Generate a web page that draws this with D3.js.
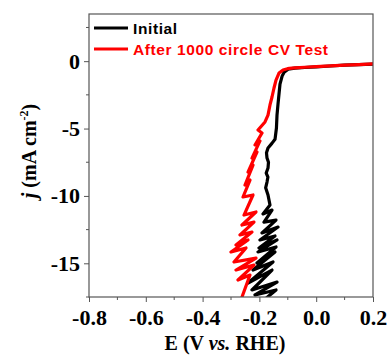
<!DOCTYPE html>
<html>
<head>
<meta charset="utf-8">
<script src="https://cdn.jsdelivr.net/npm/d3@7"></script>
<style>
  body { margin: 0; background: #fff; }
  svg { display: block; }
</style>
</head>
<body>
<svg id="plot"></svg>
<script>
// Series names
const seriesNames = ["Initial", "After 1000 circle CV Test"];
const seriesColors = ["#000000", "#ff0000"];

// Initial LSV curve (E in V vs RHE, j in mA cm-2)
const initialE = [0.2, 0.15, 0.1, 0.05, 0.0, -0.04, -0.075, -0.099, -0.113, -0.120, -0.1275, -0.131, -0.1345, -0.138, -0.140, -0.145, -0.156, -0.1697, -0.175, -0.1732, -0.168, -0.1697, -0.176, -0.170, -0.1732, -0.178, -0.1697, -0.1627, -0.1873, -0.1556, -0.1838, -0.1415, -0.1908, -0.1345, -0.1979, -0.1451, -0.2014, -0.1380, -0.2049, -0.1415, -0.2085, -0.1451, -0.2225, -0.1521, -0.2401, -0.1556, -0.2261, -0.1380, -0.2155, -0.1415, -0.2049];
const initialJ = [-0.22, -0.26, -0.30, -0.36, -0.42, -0.47, -0.52, -0.59, -0.82, -1.11, -1.71, -2.45, -3.19, -4.00, -4.96, -5.80, -6.10, -6.44, -6.80, -7.19, -7.50, -7.93, -8.30, -8.60, -8.97, -9.40, -9.93, -10.67, -11.34, -11.05, -11.94, -11.79, -12.75, -12.31, -13.27, -12.97, -13.86, -13.27, -14.16, -13.79, -14.98, -14.16, -15.50, -14.90, -16.46, -15.50, -16.98, -16.39, -17.35, -16.98, -18.09];

// After 1000 CV cycles
const afterE = [0.2, 0.15, 0.1, 0.05, 0.0, -0.04, -0.075, -0.095, -0.1169, -0.1310, -0.1415, -0.1486, -0.1556, -0.1627, -0.1697, -0.1803, -0.2049, -0.1908, -0.2155, -0.1979, -0.2261, -0.2085, -0.2401, -0.2225, -0.2507, -0.2331, -0.2577, -0.2225, -0.2542, -0.2120, -0.2613, -0.2190, -0.2683, -0.2261, -0.2824, -0.2401, -0.30, -0.2472, -0.2894, -0.2120, -0.2824, -0.2190, -0.2754, -0.2331, -0.2613, -0.2507];
const afterJ = [-0.20, -0.25, -0.30, -0.35, -0.40, -0.45, -0.50, -0.53, -0.66, -0.88, -1.40, -1.99, -2.66, -3.25, -4.00, -4.51, -5.11, -5.33, -6.22, -5.92, -7.19, -6.74, -8.23, -7.71, -9.19, -8.82, -10.08, -9.93, -11.42, -11.19, -12.16, -11.94, -12.90, -12.68, -13.64, -13.27, -14.16, -13.86, -14.90, -14.61, -15.50, -15.13, -16.24, -15.87, -17.50, -18.09];

// Axis ticks
const xTicks = [-0.8, -0.6, -0.4, -0.2, 0.0, 0.2];
const xMinor = [-0.7, -0.5, -0.3, -0.1, 0.1];
const yTicks = [0, -5, -10, -15];
const yMinor = [2.5, -2.5, -7.5, -12.5, -17.5];

const W = 392, H = 359;
const margin = { top: 14, right: 19, bottom: 62, left: 89 };
const width = W - margin.left - margin.right;
const height = H - margin.top - margin.bottom;
const serif = "'Liberation Serif', 'Times New Roman', serif";
const sans = "'Liberation Sans', Arial, sans-serif";

const svg = d3.select("#plot").attr("width", W).attr("height", H);
const g = svg.append("g").attr("transform", `translate(${margin.left},${margin.top})`);

const x = d3.scaleLinear().domain([-0.8, 0.2]).range([0, width]);
const y = d3.scaleLinear().domain([-17.5, 3.5]).range([height, 0]);

g.append("clipPath").attr("id", "clip")
  .append("rect").attr("width", width).attr("height", height);

// Curves (red drawn over black)
const series = [
  initialE.map((e, i) => [e, initialJ[i]]),
  afterE.map((e, i) => [e, afterJ[i]])
];
const line = d3.line().x(d => x(d[0])).y(d => y(d[1]));
series.forEach((s, i) => {
  g.append("path")
    .datum(s)
    .attr("clip-path", "url(#clip)")
    .attr("fill", "none")
    .attr("stroke", seriesColors[i])
    .attr("stroke-width", 3.2)
    .attr("stroke-linejoin", "round")
    .attr("d", line);
});

// Frame
g.append("rect")
  .attr("width", width).attr("height", height)
  .attr("fill", "none").attr("stroke", "#555").attr("stroke-width", 1.2);

// Bottom axis
const xAxis = g.append("g").attr("transform", `translate(0,${height})`);
xAxis.call(d3.axisBottom(x).tickValues(xTicks).tickSize(5).tickSizeOuter(0));
xMinor.forEach(v => {
  xAxis.append("line").attr("x1", x(v)).attr("x2", x(v)).attr("y1", 0).attr("y2", 3).attr("stroke", "#555");
});
xAxis.select(".domain").remove();
xAxis.selectAll(".tick line").attr("stroke", "#555");
xAxis.selectAll(".tick text")
  .style("font-family", serif).style("font-weight", "bold").style("font-size", "22px")
  .attr("fill", "#000").attr("y", 8).attr("dy", "0.9em")
  .text(d => d.toFixed(1));

// Left axis
const yAxis = g.append("g");
yAxis.call(d3.axisLeft(y).tickValues(yTicks).tickSize(5).tickSizeOuter(0));
yMinor.forEach(v => {
  yAxis.append("line").attr("x1", 0).attr("x2", -3).attr("y1", y(v)).attr("y2", y(v)).attr("stroke", "#555");
});
yAxis.select(".domain").remove();
yAxis.selectAll(".tick line").attr("stroke", "#555");
yAxis.selectAll(".tick text")
  .style("font-family", serif).style("font-weight", "bold").style("font-size", "22px")
  .attr("fill", "#000").attr("x", -9)
  .text(d => String(d));

// Axis labels
const xl = svg.append("text")
  .style("font-family", serif).style("font-weight", "bold").style("font-size", "20px")
  .attr("x", margin.left + width / 2 - 6).attr("y", 350).attr("text-anchor", "middle");
xl.append("tspan").text("E (V ");
xl.append("tspan").attr("font-style", "italic").text("vs.");
xl.append("tspan").text(" RHE)");

const yl = svg.append("text")
  .style("font-family", serif).style("font-weight", "bold").style("font-size", "20px")
  .attr("transform", `translate(36,${margin.top + 137}) rotate(-90)`)
  .attr("text-anchor", "middle");
yl.append("tspan").attr("font-style", "italic").text("j");
yl.append("tspan").text(" (mA cm");
yl.append("tspan").style("font-size", "12px").attr("dy", "-8").text("-2");
yl.append("tspan").attr("dy", "8").text(")");

// Legend
const legendY = [28, 49];
seriesNames.forEach((name, i) => {
  svg.append("line")
    .attr("x1", 94).attr("x2", 128).attr("y1", legendY[i]).attr("y2", legendY[i])
    .attr("stroke", seriesColors[i]).attr("stroke-width", 3);
  svg.append("text")
    .style("font-family", sans).style("font-weight", "bold").style("font-size", "15.5px")
    .style("letter-spacing", "0.6px")
    .attr("x", 133).attr("y", legendY[i] + 5.5)
    .attr("fill", seriesColors[i])
    .text(name);
});
</script>
</body>
</html>
